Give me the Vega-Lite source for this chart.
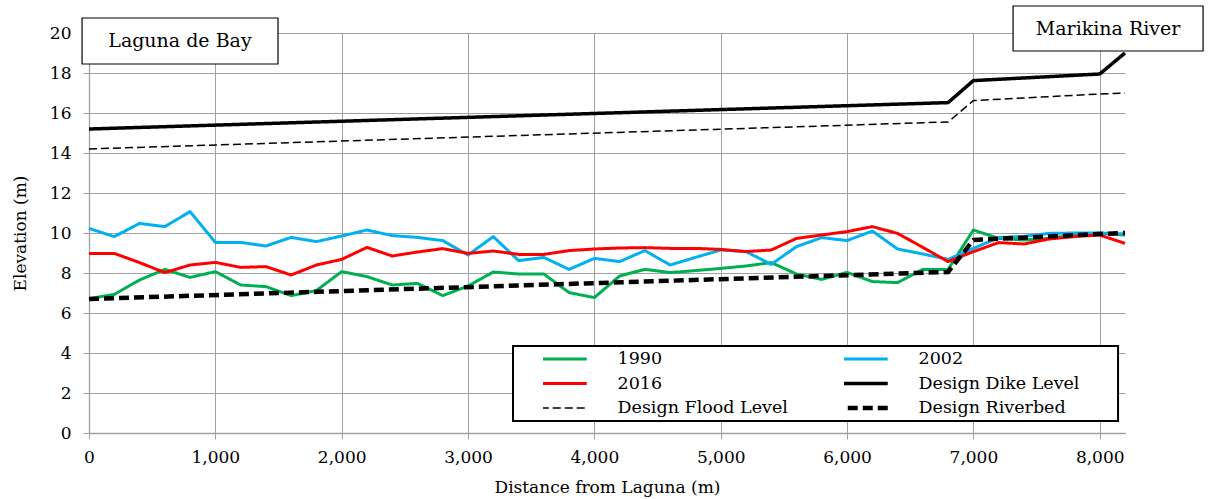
{
  "$schema": "https://vega.github.io/schema/vega-lite/v6.json",
  "width": 1036,
  "height": 400,
  "autosize": {"type": "none"},
  "padding": {"left": 89, "top": 33, "right": 88, "bottom": 66},
  "background": "white",
  "config": {
    "view": {"stroke": null},
    "font": "DejaVu Serif",
    "axis": {
      "labelFont": "DejaVu Serif",
      "titleFont": "DejaVu Serif",
      "labelFontSize": 17,
      "titleFontSize": 17,
      "labelColor": "black",
      "titleColor": "black",
      "titleFontWeight": "normal",
      "gridColor": "#a0a0a0",
      "gridWidth": 1,
      "domainColor": "#a0a0a0",
      "domainWidth": 1.3,
      "tickColor": "#a0a0a0",
      "tickSize": 6,
      "labelOverlap": false,
      "labelFlush": false
    },
    "axisY": {"labelOverlap": false}
  },
  "datasets": {
    "profiles": [
      {"series": "1990", "distance": 0, "elevation": 6.72},
      {"series": "1990", "distance": 200, "elevation": 6.93},
      {"series": "1990", "distance": 400, "elevation": 7.65},
      {"series": "1990", "distance": 600, "elevation": 8.18},
      {"series": "1990", "distance": 800, "elevation": 7.78},
      {"series": "1990", "distance": 1000, "elevation": 8.07},
      {"series": "1990", "distance": 1200, "elevation": 7.4},
      {"series": "1990", "distance": 1400, "elevation": 7.32},
      {"series": "1990", "distance": 1600, "elevation": 6.87},
      {"series": "1990", "distance": 1800, "elevation": 7.12},
      {"series": "1990", "distance": 2000, "elevation": 8.07},
      {"series": "1990", "distance": 2200, "elevation": 7.82},
      {"series": "1990", "distance": 2400, "elevation": 7.4},
      {"series": "1990", "distance": 2600, "elevation": 7.48},
      {"series": "1990", "distance": 2800, "elevation": 6.87},
      {"series": "1990", "distance": 3000, "elevation": 7.35},
      {"series": "1990", "distance": 3200, "elevation": 8.05},
      {"series": "1990", "distance": 3400, "elevation": 7.95},
      {"series": "1990", "distance": 3600, "elevation": 7.95},
      {"series": "1990", "distance": 3800, "elevation": 7.02},
      {"series": "1990", "distance": 4000, "elevation": 6.77},
      {"series": "1990", "distance": 4200, "elevation": 7.85},
      {"series": "1990", "distance": 4400, "elevation": 8.18},
      {"series": "1990", "distance": 4600, "elevation": 8.02},
      {"series": "1990", "distance": 4800, "elevation": 8.12},
      {"series": "1990", "distance": 5000, "elevation": 8.23},
      {"series": "1990", "distance": 5200, "elevation": 8.35},
      {"series": "1990", "distance": 5400, "elevation": 8.52},
      {"series": "1990", "distance": 5600, "elevation": 7.95},
      {"series": "1990", "distance": 5800, "elevation": 7.68},
      {"series": "1990", "distance": 6000, "elevation": 8.03},
      {"series": "1990", "distance": 6200, "elevation": 7.57},
      {"series": "1990", "distance": 6400, "elevation": 7.52},
      {"series": "1990", "distance": 6600, "elevation": 8.18},
      {"series": "1990", "distance": 6800, "elevation": 8.18},
      {"series": "1990", "distance": 7000, "elevation": 10.15},
      {"series": "1990", "distance": 7200, "elevation": 9.73},
      {"series": "1990", "distance": 7400, "elevation": 9.65},
      {"series": "1990", "distance": 7600, "elevation": 9.73},
      {"series": "1990", "distance": 7800, "elevation": 9.9},
      {"series": "1990", "distance": 8000, "elevation": 10.0},
      {"series": "1990", "distance": 8200, "elevation": 9.9},
      {"series": "2002", "distance": 0, "elevation": 10.23},
      {"series": "2002", "distance": 200, "elevation": 9.82},
      {"series": "2002", "distance": 400, "elevation": 10.48},
      {"series": "2002", "distance": 600, "elevation": 10.32},
      {"series": "2002", "distance": 800, "elevation": 11.07},
      {"series": "2002", "distance": 1000, "elevation": 9.53},
      {"series": "2002", "distance": 1200, "elevation": 9.53},
      {"series": "2002", "distance": 1400, "elevation": 9.35},
      {"series": "2002", "distance": 1600, "elevation": 9.78},
      {"series": "2002", "distance": 1800, "elevation": 9.57},
      {"series": "2002", "distance": 2000, "elevation": 9.85},
      {"series": "2002", "distance": 2200, "elevation": 10.15},
      {"series": "2002", "distance": 2400, "elevation": 9.87},
      {"series": "2002", "distance": 2600, "elevation": 9.78},
      {"series": "2002", "distance": 2800, "elevation": 9.62},
      {"series": "2002", "distance": 3000, "elevation": 8.9},
      {"series": "2002", "distance": 3200, "elevation": 9.82},
      {"series": "2002", "distance": 3400, "elevation": 8.62},
      {"series": "2002", "distance": 3600, "elevation": 8.78},
      {"series": "2002", "distance": 3800, "elevation": 8.18},
      {"series": "2002", "distance": 4000, "elevation": 8.73},
      {"series": "2002", "distance": 4200, "elevation": 8.57},
      {"series": "2002", "distance": 4400, "elevation": 9.12},
      {"series": "2002", "distance": 4600, "elevation": 8.4},
      {"series": "2002", "distance": 4800, "elevation": 8.78},
      {"series": "2002", "distance": 5000, "elevation": 9.15},
      {"series": "2002", "distance": 5200, "elevation": 9.07},
      {"series": "2002", "distance": 5400, "elevation": 8.43},
      {"series": "2002", "distance": 5600, "elevation": 9.32},
      {"series": "2002", "distance": 5800, "elevation": 9.77},
      {"series": "2002", "distance": 6000, "elevation": 9.62},
      {"series": "2002", "distance": 6200, "elevation": 10.1},
      {"series": "2002", "distance": 6400, "elevation": 9.2},
      {"series": "2002", "distance": 6600, "elevation": 8.95},
      {"series": "2002", "distance": 6800, "elevation": 8.68},
      {"series": "2002", "distance": 7000, "elevation": 9.23},
      {"series": "2002", "distance": 7200, "elevation": 9.77},
      {"series": "2002", "distance": 7400, "elevation": 9.83},
      {"series": "2002", "distance": 7600, "elevation": 9.98},
      {"series": "2002", "distance": 7800, "elevation": 10.0},
      {"series": "2002", "distance": 8000, "elevation": 10.0},
      {"series": "2002", "distance": 8200, "elevation": 9.95},
      {"series": "2016", "distance": 0, "elevation": 8.98},
      {"series": "2016", "distance": 200, "elevation": 8.98},
      {"series": "2016", "distance": 400, "elevation": 8.52},
      {"series": "2016", "distance": 600, "elevation": 8.02},
      {"series": "2016", "distance": 800, "elevation": 8.4},
      {"series": "2016", "distance": 1000, "elevation": 8.53},
      {"series": "2016", "distance": 1200, "elevation": 8.28},
      {"series": "2016", "distance": 1400, "elevation": 8.32},
      {"series": "2016", "distance": 1600, "elevation": 7.9},
      {"series": "2016", "distance": 1800, "elevation": 8.4},
      {"series": "2016", "distance": 2000, "elevation": 8.68},
      {"series": "2016", "distance": 2200, "elevation": 9.28},
      {"series": "2016", "distance": 2400, "elevation": 8.85},
      {"series": "2016", "distance": 2600, "elevation": 9.05},
      {"series": "2016", "distance": 2800, "elevation": 9.22},
      {"series": "2016", "distance": 3000, "elevation": 8.98},
      {"series": "2016", "distance": 3200, "elevation": 9.1},
      {"series": "2016", "distance": 3400, "elevation": 8.93},
      {"series": "2016", "distance": 3600, "elevation": 8.93},
      {"series": "2016", "distance": 3800, "elevation": 9.12},
      {"series": "2016", "distance": 4000, "elevation": 9.2},
      {"series": "2016", "distance": 4200, "elevation": 9.25},
      {"series": "2016", "distance": 4400, "elevation": 9.27},
      {"series": "2016", "distance": 4600, "elevation": 9.23},
      {"series": "2016", "distance": 4800, "elevation": 9.23},
      {"series": "2016", "distance": 5000, "elevation": 9.18},
      {"series": "2016", "distance": 5200, "elevation": 9.07},
      {"series": "2016", "distance": 5400, "elevation": 9.15},
      {"series": "2016", "distance": 5600, "elevation": 9.73},
      {"series": "2016", "distance": 5800, "elevation": 9.9},
      {"series": "2016", "distance": 6000, "elevation": 10.07},
      {"series": "2016", "distance": 6200, "elevation": 10.32},
      {"series": "2016", "distance": 6400, "elevation": 9.98},
      {"series": "2016", "distance": 6600, "elevation": 9.28},
      {"series": "2016", "distance": 6800, "elevation": 8.57},
      {"series": "2016", "distance": 7000, "elevation": 9.07},
      {"series": "2016", "distance": 7200, "elevation": 9.52},
      {"series": "2016", "distance": 7400, "elevation": 9.45},
      {"series": "2016", "distance": 7600, "elevation": 9.7},
      {"series": "2016", "distance": 7800, "elevation": 9.82},
      {"series": "2016", "distance": 8000, "elevation": 9.9},
      {"series": "2016", "distance": 8200, "elevation": 9.48},
      {"series": "Design Dike Level", "distance": 0, "elevation": 15.2},
      {"series": "Design Dike Level", "distance": 6800, "elevation": 16.52},
      {"series": "Design Dike Level", "distance": 7000, "elevation": 17.62},
      {"series": "Design Dike Level", "distance": 8000, "elevation": 17.95},
      {"series": "Design Dike Level", "distance": 8200, "elevation": 19.0},
      {"series": "Design Flood Level", "distance": 0, "elevation": 14.2},
      {"series": "Design Flood Level", "distance": 6800, "elevation": 15.55},
      {"series": "Design Flood Level", "distance": 7000, "elevation": 16.62},
      {"series": "Design Flood Level", "distance": 8000, "elevation": 16.95},
      {"series": "Design Flood Level", "distance": 8200, "elevation": 17.0},
      {"series": "Design Riverbed", "distance": 0, "elevation": 6.7},
      {"series": "Design Riverbed", "distance": 6800, "elevation": 8.05},
      {"series": "Design Riverbed", "distance": 7000, "elevation": 9.65},
      {"series": "Design Riverbed", "distance": 8000, "elevation": 9.95},
      {"series": "Design Riverbed", "distance": 8200, "elevation": 10.0}
    ],
    "places": [
      {"label": "Laguna de Bay", "x1": -55, "x2": 1496, "y1": 20.75, "y2": 18.45, "cx": 720, "cy": 19.6},
      {"label": "Marikina River", "x1": 7314, "x2": 8818, "y1": 21.35, "y2": 19.1, "cx": 8066, "cy": 20.22}
    ],
    "legendFrame": [
      {"x1": 3356, "x2": 8145, "y1": 4.35, "y2": 0.6}
    ]
  },
  "layer": [
    {
      "data": {"name": "profiles"},
      "mark": {"type": "line", "strokeJoin": "round", "strokeCap": "butt"},
      "encoding": {
        "x": {"field": "distance", "type": "quantitative", "scale": {"domain": [0, 8200], "nice": false, "zero": false},
              "axis": {"values": [0, 1000, 2000, 3000, 4000, 5000, 6000, 7000, 8000], "format": ",d", "title": "Distance from Laguna (m)", "labelPadding": 10, "titlePadding": 14, "grid": true}},
        "y": {"field": "elevation", "type": "quantitative", "scale": {"domain": [0, 20], "nice": false, "zero": false},
              "axis": {"tickCount": 10, "title": "Elevation (m)", "labelPadding": 12, "titlePadding": 20, "grid": true}},
        "color": {
          "field": "series", "type": "nominal",
          "scale": {"domain": ["1990", "2002", "2016", "Design Dike Level", "Design Flood Level", "Design Riverbed"],
                    "range": ["#00B050", "#00B0F0", "#FF0000", "#000000", "#000000", "#000000"]},
          "legend": {
            "title": null, "orient": "none", "legendX": 454, "legendY": 316, "direction": "horizontal",
            "columns": 2, "columnPadding": 56, "rowPadding": 4.5, "padding": 0,
            "labelFont": "DejaVu Serif", "labelFontSize": 17.5, "labelColor": "black",
            "labelOffset": 57, "labelLimit": 400, "symbolType": "stroke", "symbolSize": 4900,
            "clipHeight": 20, "symbolStrokeWidth": 3,
            "encode": {"symbols": {"update": {"strokeWidth": {"signal": "datum.value == 'Design Flood Level' ? 1.5 : datum.value == 'Design Riverbed' ? 4.5 : datum.value == 'Design Dike Level' ? 3.5 : 3"}}}}
          }
        },
        "strokeDash": {
          "field": "series", "type": "nominal",
          "scale": {"domain": ["1990", "2002", "2016", "Design Dike Level", "Design Flood Level", "Design Riverbed"],
                    "range": [[1, 0], [1, 0], [1, 0], [1, 0], [8, 4], [10, 5]]},
          "legend": {
            "title": null, "orient": "none", "legendX": 454, "legendY": 316, "direction": "horizontal",
            "columns": 2, "columnPadding": 56, "rowPadding": 4.5, "padding": 0,
            "labelFont": "DejaVu Serif", "labelFontSize": 17.5, "labelColor": "black",
            "labelOffset": 57, "labelLimit": 400, "symbolType": "stroke", "symbolSize": 4900,
            "clipHeight": 20, "symbolStrokeWidth": 3,
            "encode": {"symbols": {"update": {"strokeWidth": {"signal": "datum.value == 'Design Flood Level' ? 1.5 : datum.value == 'Design Riverbed' ? 4.5 : datum.value == 'Design Dike Level' ? 3.5 : 3"}}}}
          }
        },
        "strokeWidth": {
          "condition": [
            {"test": "datum.series === 'Design Flood Level'", "value": 1.5},
            {"test": "datum.series === 'Design Riverbed'", "value": 4.5},
            {"test": "datum.series === 'Design Dike Level'", "value": 3.5}
          ],
          "value": 3
        }
      }
    },
    {
      "data": {"name": "legendFrame"},
      "mark": {"type": "rect", "fill": "white", "stroke": "black", "strokeWidth": 2},
      "encoding": {
        "x": {"field": "x1", "type": "quantitative"},
        "x2": {"field": "x2"},
        "y": {"field": "y1", "type": "quantitative"},
        "y2": {"field": "y2"}
      }
    },
    {
      "data": {"name": "places"},
      "mark": {"type": "rect", "fill": "white", "stroke": "black", "strokeWidth": 1.2},
      "encoding": {
        "x": {"field": "x1", "type": "quantitative"},
        "x2": {"field": "x2"},
        "y": {"field": "y1", "type": "quantitative"},
        "y2": {"field": "y2"}
      }
    },
    {
      "data": {"name": "places"},
      "mark": {"type": "text", "font": "DejaVu Serif", "fontSize": 19, "color": "black", "align": "center", "baseline": "middle"},
      "encoding": {
        "x": {"field": "cx", "type": "quantitative"},
        "y": {"field": "cy", "type": "quantitative"},
        "text": {"field": "label"}
      }
    }
  ]
}
